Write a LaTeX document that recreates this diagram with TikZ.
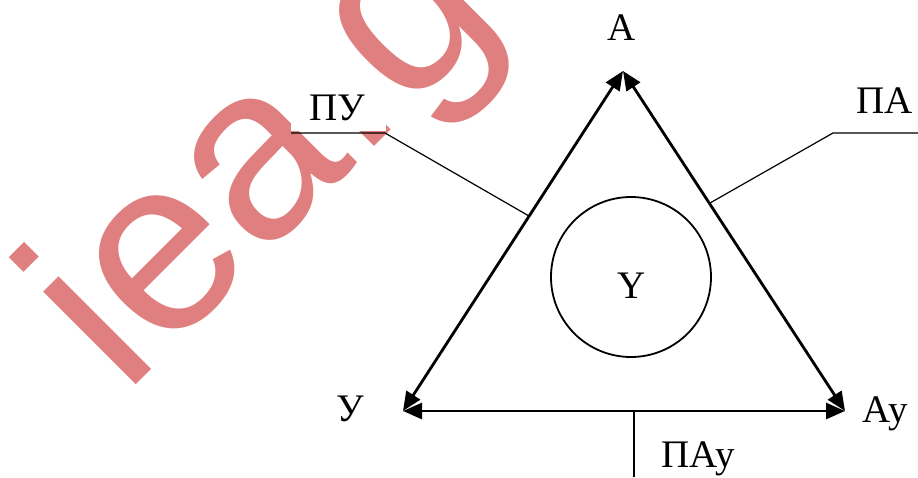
\documentclass[tikz,border=0pt]{standalone}
\usepackage{fontspec}
\setmainfont{Liberation Serif}
\newfontfamily\wmfont{Liberation Sans}
\usetikzlibrary{arrows.meta}
\definecolor{wmred}{RGB}{223,127,128}
\tikzset{
  side/.style={line width=2.8pt,{Triangle[length=19pt,width=16pt]}-{Triangle[length=19pt,width=16pt]}},
  leader/.style={line width=1.2pt},
  lbl/.style={font=\fontsize{39}{44}\selectfont,inner sep=0pt,anchor=base},
  wm/.style={font=\wmfont\fontsize{248}{250}\selectfont,text=wmred,inner sep=0pt,anchor=base west,rotate=45}
}
\begin{document}
\begin{tikzpicture}[x=1pt,y=-1pt]
\useasboundingbox (0,0) rectangle (918,477);
% watermark
\node[wm] (wm) at (124,397) {iea.g};
\fill[white] (291,84) rectangle (386,131);
% vertices
\coordinate (A) at (623,71);
\coordinate (U) at (403,411);
\coordinate (Au) at (845,411);
% sides
\draw[side] (U) -- (A);
\draw[side] (A) -- (Au);
\draw[side] (U) -- (Au);
% circle
\node[draw,circle,line width=1.8pt,minimum size=160pt,inner sep=0pt] (Y) at (631,277) {};
\node[lbl] (Ytxt) at (632,298) {Y};
% labels
\node[lbl] (lA) at (622,40) {А};
\node[lbl] (lU) at (350,421) {У};
\node[lbl,anchor=base west] (lAu) at (862,422) {Ау};
\node[lbl,anchor=base west] (lPU) at (309,120) {ПУ};
\node[lbl,anchor=base west] (lPA) at (856,113) {ПА};
\node[lbl,anchor=base west] (lPAu) at (661,467) {ПАу};
% leader lines
\coordinate (pu1) at (291,133);
\coordinate (pu2) at (385,133);
\coordinate (pu3) at (529,216);
\draw[leader] (pu1) -- (pu2) -- (pu3);
\coordinate (pa1) at (918,133);
\coordinate (pa2) at (833,133);
\coordinate (pa3) at (710,203);
\draw[leader] (pa1) -- (pa2) -- (pa3);
\coordinate (pau1) at (634,411);
\coordinate (pau2) at (634,477);
\draw[leader] (pau1) -- (pau2);
\end{tikzpicture}
\end{document}
